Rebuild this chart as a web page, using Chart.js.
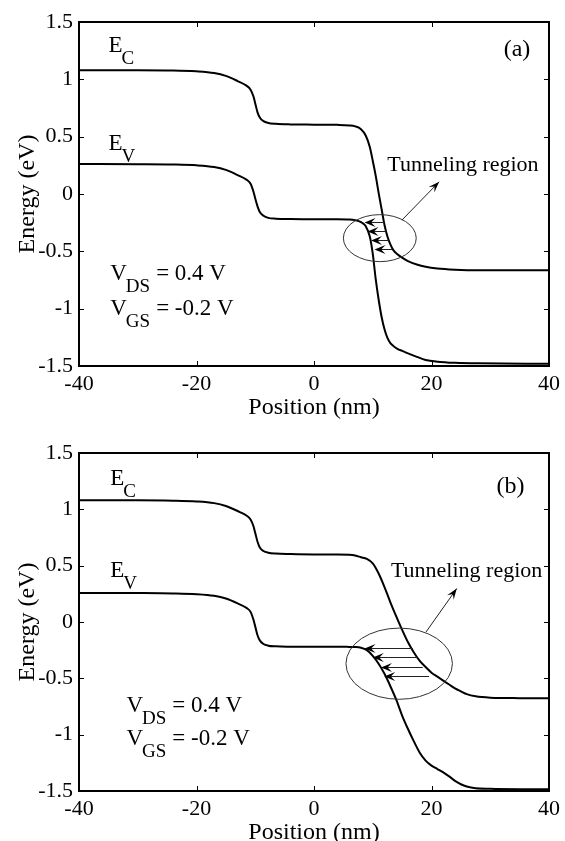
<!DOCTYPE html>
<html>
<head>
<meta charset="utf-8">
<script src="https://cdn.jsdelivr.net/npm/chart.js@4.4.0/dist/chart.umd.min.js"></script>
<style>
  html, body { margin: 0; padding: 0; background: #fff; overflow: hidden; }
  body { width: 565px; height: 841px; position: relative; }
  canvas { position: absolute; left: 0; }
  #chartA { top: 0; }
  #chartB { top: 420px; }
</style>
</head>
<body>
<canvas id="chartA" width="565" height="422"></canvas>
<canvas id="chartB" width="565" height="427"></canvas>
<script>
// axis ticks
const xTicks = [-40, -20, 0, 20, 40];
const yTicks = [1.5, 1, 0.5, 0, -0.5, -1, -1.5];

// panel (a): position (nm), conduction / valence band edge (eV)
const posA = [-40, -30, -24, -20, -17, -15, -13, -11.5, -10.8, -10.3, -10, -9.6, -9.2, -8.6, -7.8, -6.5, -4, 0, 4, 6, 7, 8, 8.8, 9.5, 10, 10.5, 11, 11.5, 12, 12.5, 13, 13.5, 14.2, 15, 16, 17.5, 19, 21, 24, 28, 40];
const ecA = [1.08, 1.08, 1.078, 1.07, 1.055, 1.03, 0.985, 0.945, 0.91, 0.85, 0.79, 0.71, 0.665, 0.635, 0.62, 0.612, 0.607, 0.605, 0.603, 0.598, 0.59, 0.565, 0.51, 0.41, 0.29, 0.16, 0.01, -0.13, -0.27, -0.37, -0.44, -0.49, -0.525, -0.555, -0.585, -0.615, -0.635, -0.65, -0.66, -0.665, -0.665];
const evA = [0.262, 0.26, 0.257, 0.25, 0.235, 0.21, 0.165, 0.125, 0.09, 0.02, -0.04, -0.11, -0.16, -0.19, -0.208, -0.215, -0.218, -0.22, -0.22, -0.222, -0.228, -0.245, -0.28, -0.37, -0.52, -0.74, -0.92, -1.07, -1.18, -1.255, -1.3, -1.325, -1.35, -1.368, -1.39, -1.42, -1.447, -1.462, -1.472, -1.477, -1.48];

// panel (b)
const posB = [-40, -30, -24, -20, -17, -15, -13, -11.5, -10.8, -10.3, -10, -9.6, -9.2, -8.6, -7.8, -6.5, -4, 0, 4, 6, 7, 8, 9, 10, 11, 12, 13, 14, 15, 16, 17, 18, 19, 20, 21, 22, 23, 24, 25, 26, 27.5, 30, 35, 40];
const ecB = [1.08, 1.08, 1.077, 1.07, 1.055, 1.03, 0.985, 0.945, 0.91, 0.85, 0.79, 0.71, 0.66, 0.63, 0.615, 0.607, 0.603, 0.6, 0.6, 0.597, 0.59, 0.575, 0.56, 0.52, 0.43, 0.31, 0.175, 0.05, -0.07, -0.18, -0.27, -0.345, -0.4, -0.45, -0.485, -0.52, -0.555, -0.59, -0.615, -0.64, -0.66, -0.672, -0.676, -0.677];
const evB = [0.258, 0.257, 0.254, 0.247, 0.232, 0.208, 0.165, 0.125, 0.09, 0.02, -0.04, -0.12, -0.165, -0.195, -0.21, -0.216, -0.219, -0.22, -0.22, -0.221, -0.222, -0.228, -0.25, -0.3, -0.37, -0.46, -0.57, -0.69, -0.83, -0.95, -1.06, -1.16, -1.23, -1.275, -1.305, -1.335, -1.37, -1.41, -1.44, -1.46, -1.475, -1.48, -1.484, -1.485];

// tunneling arrows: energy (eV), start on Ec side, tip on Ev side (nm)
const tunnelEA = [-0.245, -0.32, -0.40, -0.48];
const tunnelFromA = [12.0, 12.3, 12.7, 13.3];
const tunnelToA = [8.6, 9.1, 9.7, 10.3];
const tunnelEB = [-0.23, -0.309, -0.40, -0.483];
const tunnelFromB = [16.8, 17.6, 18.5, 19.6];
const tunnelToB = [8.6, 10.0, 11.4, 11.95];

const SERIF = '"Liberation Serif", "Times New Roman", serif';

function pts(xs, ys) {
  return xs.map((x, i) => ({ x, y: ys[i] }));
}

function arrowHead(ctx, x0, y0, x1, y1, len, half) {
  const ang = Math.atan2(y1 - y0, x1 - x0);
  ctx.save();
  ctx.translate(x1, y1);
  ctx.rotate(ang);
  ctx.beginPath();
  ctx.moveTo(0, 0);
  ctx.lineTo(-len, -half);
  ctx.lineTo(-len * 0.6, 0);
  ctx.lineTo(-len, half);
  ctx.closePath();
  ctx.fill();
  ctx.restore();
}

// draws main text with a subscript, returns x after subscript
function subText(ctx, main, sub, x, y) {
  ctx.font = '23px ' + SERIF;
  ctx.fillText(main, x, y);
  const w = ctx.measureText(main).width;
  ctx.font = '19px ' + SERIF;
  ctx.fillText(sub, x + w - 1, y + 12);
  return x + w - 1 + ctx.measureText(sub).width;
}

const bandNotes = {
  id: 'bandNotes',
  afterDatasetsDraw(chart, args, o) {
    const { ctx, chartArea: a } = chart;
    const sx = chart.scales.x, sy = chart.scales.y;
    const px = v => sx.getPixelForValue(v);
    const py = v => sy.getPixelForValue(v);
    ctx.save();

    // box and inward ticks
    ctx.strokeStyle = '#000';
    ctx.lineWidth = 2;
    ctx.strokeRect(a.left, a.top, a.right - a.left, a.bottom - a.top);
    ctx.lineWidth = 1;
    ctx.beginPath();
    sx.ticks.forEach(t => {
      const p = Math.round(px(t.value)) + 0.5;
      ctx.moveTo(p, a.bottom); ctx.lineTo(p, a.bottom - 5);
      ctx.moveTo(p, a.top); ctx.lineTo(p, a.top + 5);
    });
    sy.ticks.forEach(t => {
      const p = Math.round(py(t.value)) + 0.5;
      ctx.moveTo(a.left, p); ctx.lineTo(a.left + 5, p);
      ctx.moveTo(a.right, p); ctx.lineTo(a.right - 5, p);
    });
    ctx.stroke();

    // ellipse around tunneling window
    const e = o.ellipse;
    ctx.strokeStyle = '#333';
    ctx.lineWidth = 1;
    ctx.beginPath();
    ctx.ellipse(px(e.cx), py(e.cy), Math.abs(px(e.cx + e.rx) - px(e.cx)),
      Math.abs(py(e.cy + e.ry) - py(e.cy)), 0, 0, Math.PI * 2);
    ctx.stroke();

    // horizontal tunneling arrows
    ctx.fillStyle = '#000';
    ctx.strokeStyle = '#222';
    o.tunnelE.forEach((en, i) => {
      const yy = Math.round(py(en)) + 0.5;
      const x0 = px(o.tunnelFrom[i]), x1 = px(o.tunnelTo[i]);
      ctx.beginPath();
      ctx.moveTo(x0, yy); ctx.lineTo(x1 + 5, yy);
      ctx.stroke();
      arrowHead(ctx, x0, yy, x1, yy, 11, 4.5);
    });

    // leader arrow to label
    const L = o.leader;
    const lx0 = px(L[0]), ly0 = py(L[1]), lx1 = px(L[2]), ly1 = py(L[3]);
    ctx.beginPath();
    ctx.moveTo(lx0, ly0); ctx.lineTo(lx1, ly1);
    ctx.stroke();
    arrowHead(ctx, lx0, ly0, lx1, ly1, 11, 4);

    // texts
    ctx.fillStyle = '#000';
    ctx.textBaseline = 'alphabetic';
    ctx.textAlign = 'left';
    ctx.font = '22px ' + SERIF;
    ctx.fillText('Tunneling region', px(o.tunnelText[0]), py(o.tunnelText[1]));
    ctx.font = '24px ' + SERIF;
    ctx.textAlign = 'center';
    ctx.fillText(o.tag, px(o.tagAt[0]), py(o.tagAt[1]));
    ctx.textAlign = 'left';
    subText(ctx, 'E', 'C', px(o.ecLabel[0]), py(o.ecLabel[1]));
    subText(ctx, 'E', 'V', px(o.evLabel[0]), py(o.evLabel[1]));
    const bx = px(o.bias[0]);
    let yb = py(o.bias[1]);
    let end = subText(ctx, 'V', 'DS', bx, yb);
    ctx.font = '23px ' + SERIF;
    ctx.fillText('= 0.4 V', end + 6, yb);
    yb = py(o.bias[2]);
    end = subText(ctx, 'V', 'GS', bx, yb);
    ctx.font = '23px ' + SERIF;
    ctx.fillText('= -0.2 V', end + 6, yb);
    ctx.restore();
  }
};

function makeChart(id, xs, ec, ev, padTop, notes) {
  const line = {
    borderColor: '#000',
    borderWidth: 2,
    pointRadius: 0,
    fill: false,
    tension: 0.4,
    cubicInterpolationMode: 'monotone'
  };
  return new Chart(document.getElementById(id), {
    type: 'line',
    data: {
      datasets: [
        { ...line, label: 'Ec', data: pts(xs, ec) },
        { ...line, label: 'Ev', data: pts(xs, ev) }
      ]
    },
    options: {
      responsive: false,
      animation: false,
      events: [],
      layout: { padding: { top: padTop, right: 15, bottom: 0, left: 0 } },
      plugins: {
        legend: { display: false },
        tooltip: { enabled: false },
        bandNotes: notes
      },
      scales: {
        x: {
          type: 'linear',
          min: -40,
          max: 40,
          afterBuildTicks: s => { s.ticks = xTicks.map(v => ({ value: v })); },
          afterFit: s => { s.height = 56; },
          grid: { display: false, drawTicks: false },
          border: { display: false },
          ticks: {
            color: '#000',
            font: { family: SERIF, size: 22 },
            padding: 5,
            maxRotation: 0,
            autoSkip: false,
            callback: v => String(v)
          },
          title: {
            display: true,
            text: 'Position (nm)',
            color: '#000',
            font: { family: SERIF, size: 24 },
            padding: { top: 0, bottom: 0 }
          }
        },
        y: {
          min: -1.5,
          max: 1.5,
          afterBuildTicks: s => { s.ticks = yTicks.map(v => ({ value: v })); },
          afterFit: s => { s.width = 79; },
          grid: { display: false, drawTicks: false },
          border: { display: false },
          ticks: {
            color: '#000',
            font: { family: SERIF, size: 22 },
            padding: 6,
            autoSkip: false,
            callback: v => String(v)
          },
          title: {
            display: true,
            text: 'Energy (eV)',
            color: '#000',
            font: { family: SERIF, size: 24 },
            padding: { top: 13, bottom: 0 }
          }
        }
      }
    },
    plugins: [bandNotes]
  });
}

makeChart('chartA', posA, ecA, evA, 22, {
  tag: '(a)', tagAt: [34.56, 1.2],
  ecLabel: [-35.0, 1.236], evLabel: [-35.0, 0.382],
  bias: [-34.68, -0.75, -1.055],
  tunnelText: [12.47, 0.202],
  ellipse: { cx: 11.2, cy: -0.385, rx: 6.2, ry: 0.205 },
  leader: [14.96, -0.228, 21.3, 0.106],
  tunnelE: tunnelEA, tunnelFrom: tunnelFromA, tunnelTo: tunnelToA
});

makeChart('chartB', posB, ecB, evB, 33, {
  tag: '(b)', tagAt: [33.45, 1.143],
  ecLabel: [-34.68, 1.214], evLabel: [-34.68, 0.401],
  bias: [-31.93, -0.799, -1.091],
  tunnelText: [13.09, 0.4],
  ellipse: { cx: 14.5, cy: -0.37, rx: 9.06, ry: 0.316 },
  leader: [19.05, -0.09, 24.3, 0.297],
  tunnelE: tunnelEB, tunnelFrom: tunnelFromB, tunnelTo: tunnelToB
});
</script>
</body>
</html>
